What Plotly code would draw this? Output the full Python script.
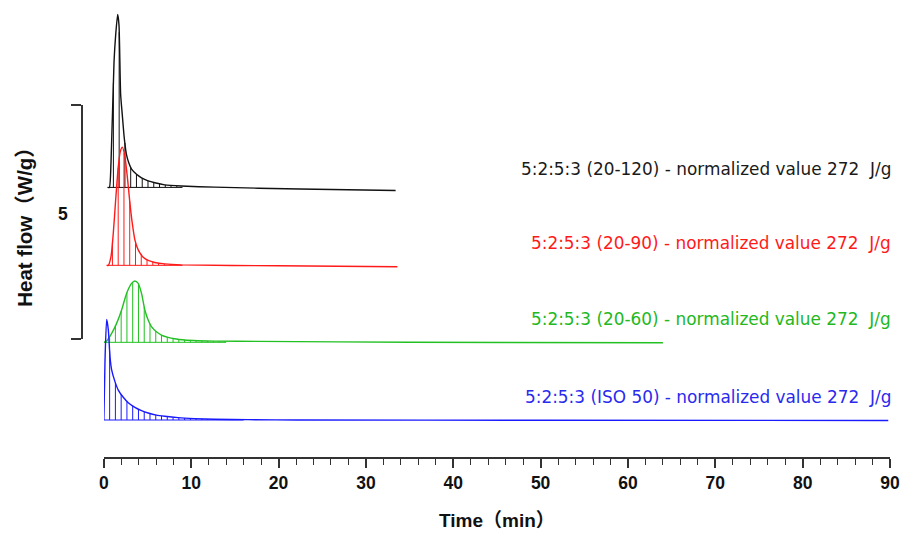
import numpy as np
import plotly.graph_objects as go

# ---- data ----
series_names = [
    "5:2:5:3 (20-120) - normalized value 272  J/g",
    "5:2:5:3 (20-90) - normalized value 272  J/g",
    "5:2:5:3 (20-60) - normalized value 272  J/g",
    "5:2:5:3 (ISO 50) - normalized value 272  J/g",
]
series_colors = ["#111111", "#ff1a1a", "#22c022", "#1a1aff"]
label_colors = ["#1a1a1a", "#ff1a1a", "#22b822", "#2a2aee"]
offsets = [9.94, 6.61, 3.32, 0.0]          # vertical stacking offsets (W/g)
label_y = [10.73, 7.58, 4.32, 0.98]
hatch_end = [9.0, 9.0, 14.0, 16.0]         # min, extent of the hatched area

black_t = [0.43, 0.63, 0.82, 1.16, 1.35, 1.58, 1.73, 1.92, 2.11, 2.34, 2.60, 2.87,
           3.17, 3.74, 4.31, 5.07, 5.83, 6.97, 8.87, 12.67, 22.4, 33.4]
black_v = [0, 0, 1.10, 5.34, 6.51, 7.39, 6.94, 3.97, 3.09, 2.09, 1.38, 1.03,
           0.78, 0.56, 0.41, 0.28, 0.20, 0.11, 0.06, 0.01, -0.07, -0.13]

red_t = [0.32, 0.51, 0.82, 1.08, 1.35, 1.65, 1.88, 2.11, 2.41, 2.72, 2.98, 3.25,
         3.55, 3.93, 4.50, 5.07, 5.83, 6.97, 8.87, 20.0, 33.6]
red_v = [0, 0, 0.38, 1.38, 2.80, 4.22, 4.86, 5.05, 4.65, 3.65, 2.66, 1.80,
         1.09, 0.66, 0.35, 0.21, 0.12, 0.06, 0.02, -0.02, -0.06]

green_t = [0.0, 0.32, 0.89, 1.46, 2.03, 2.60, 3.17, 3.55, 3.93, 4.31, 4.69, 5.07,
           5.45, 6.02, 6.59, 7.35, 8.11, 9.25, 10.77, 12.67, 17.6, 35.0, 64.0]
green_v = [0, 0.06, 0.38, 0.81, 1.38, 2.09, 2.52, 2.62, 2.52, 2.09, 1.38, 0.95,
           0.67, 0.45, 0.31, 0.21, 0.15, 0.10, 0.07, 0.05, 0.04, 0.0, -0.02]

blue_t = [0.0, 0.13, 0.32, 0.51, 0.70, 0.89, 1.27, 1.65, 2.22, 2.79, 3.55, 4.31,
          5.07, 6.02, 6.97, 8.49, 10.39, 12.67, 16.5, 22.2, 50.0, 89.8]
blue_v = [0, 2.56, 4.30, 3.85, 2.71, 2.14, 1.64, 1.28, 0.97, 0.74, 0.54, 0.40,
          0.30, 0.21, 0.16, 0.10, 0.06, 0.03, 0.015, 0.0, -0.01, -0.02]

x_ticks = [0, 10, 20, 30, 40, 50, 60, 70, 80, 90]
hatch_step = 0.66

curves = [(black_t, black_v), (red_t, red_v), (green_t, green_v), (blue_t, blue_v)]

fig = go.Figure()

# invisible trace so the scale-bar axis is drawn (added first, below the curves)
fig.add_trace(go.Scatter(x=[None], y=[None], xaxis="x", yaxis="y2",
                         showlegend=False, hoverinfo="skip"))

for i, (t, v) in enumerate(curves):
    t = np.array(t, float)
    v = np.array(v, float)
    base = offsets[i]
    col = series_colors[i]
    # hatching: baseline + vertical lines from baseline to the curve
    hx, hy = [t[0], hatch_end[i], None], [base, base, None]
    k = 1
    while t[0] + k * hatch_step <= hatch_end[i]:
        xx = t[0] + k * hatch_step
        yy = float(np.interp(xx, t, v))
        if yy > 0.01:
            hx += [xx, xx, None]
            hy += [base, base + yy, None]
        k += 1
    fig.add_trace(go.Scatter(x=hx, y=hy, mode="lines",
                             line=dict(color=col, width=1),
                             hoverinfo="skip", showlegend=False))
    fig.add_trace(go.Scatter(x=t, y=v + base, mode="lines", name=series_names[i],
                             line=dict(color=col, width=1.4, shape="spline", smoothing=0.6),
                             showlegend=False))
    fig.add_annotation(x=89.6, y=label_y[i], xref="x", yref="y", xshift=6,
                       text=series_names[i].replace("  ", "&nbsp; "),
                       showarrow=False, xanchor="right", yanchor="middle",
                       font=dict(family="DejaVu Sans", size=16.9, color=label_colors[i]))

axis_col = "#333333"

fig.update_layout(
    width=905, height=535,
    margin=dict(l=70, r=12, t=5, b=78),
    paper_bgcolor="white", plot_bgcolor="rgba(0,0,0,0)",
    showlegend=False,
    xaxis=dict(
        domain=[34 / 823, 1], range=[0, 90],
        showline=True, linecolor=axis_col, linewidth=1.5,
        tickmode="array", tickvals=x_ticks,
        ticks="outside", ticklen=9, tickwidth=1.5, tickcolor=axis_col,
        minor=dict(dtick=2, tick0=0, ticks="outside", ticklen=6, tickwidth=1.3, tickcolor=axis_col),
        showgrid=False, zeroline=False,
        tickfont=dict(family="Liberation Sans, Arial", size=17.5, color="#111111", weight="bold"),
        title=dict(text="Time（min）", standoff=22,
                   font=dict(family="Liberation Sans, Noto Sans CJK SC", size=19,
                             color="#111111", weight="bold")),
    ),
    yaxis=dict(range=[-1.581, 17.735], visible=False, showgrid=False, zeroline=False),
    yaxis2=dict(
        anchor="free", position=12 / 823, side="left",
        domain=[0.2611, 0.7788], range=[0, 10],
        showline=True, linecolor=axis_col, linewidth=1.5,
        tickmode="array", tickvals=[5.35], ticktext=["5"], ticks="",
        ticklabelstandoff=10,
        minor=dict(tickvals=[0, 10], ticks="outside", ticklen=10, tickwidth=1.5, tickcolor=axis_col),
        showgrid=False, zeroline=False,
        tickfont=dict(family="Liberation Sans, Arial", size=17.5, color="#111111", weight="bold"),
        title=dict(text="Heat flow（W/g）", standoff=19,
                   font=dict(family="Liberation Sans, Noto Sans CJK SC", size=20.5,
                             color="#111111", weight="bold")),
    ),
)

fig.write_html("out.html")
